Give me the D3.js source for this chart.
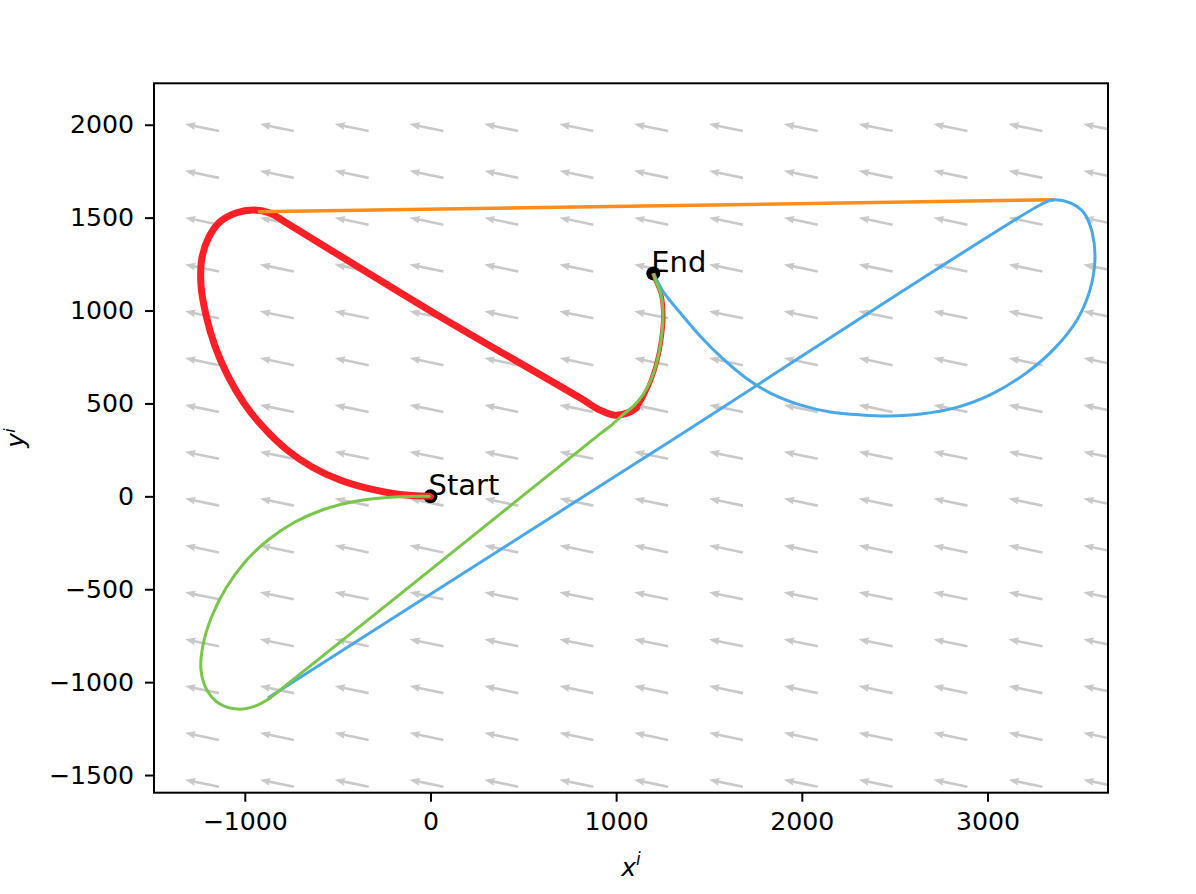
<!DOCTYPE html>
<html lang="en">
  <head>
    <meta charset="UTF-8" />
    <title>Paths in wind field</title>
    <script src="https://d3js.org/d3.v7.min.js"></script>
    <style>
      body { margin: 0; background: #fff; }
      text { font-family: "DejaVu Sans", sans-serif; }
    </style>
  </head>
  <body>
    <svg width="1196" height="894"></svg>

    <script>
      // ---- data ----
      const xTicks = [-1000, 0, 1000, 2000, 3000];
      const yTicks = [-1500, -1000, -500, 0, 500, 1000, 1500, 2000];

      // quiver grid (arrow tails) and the constant wind vector
      const quiverX = [-1139, -736, -333, 70, 473, 877, 1280, 1683, 2086, 2489, 2892, 3296, 3699];
      const quiverY = [1966, 1714, 1462, 1210, 958, 706, 454, 202, -50, -302, -554, -807, -1059, -1311, -1563];
      const windU = -183;
      const windV = 38;

      const redPath = [
        [0, 0], [-164, 10], [-326, 40], [-487, 88], [-638, 158], [-773, 250],
        [-897, 368], [-1005, 502], [-1091, 648], [-1161, 809], [-1209, 976],
        [-1236, 1138], [-1231, 1283], [-1193, 1396], [-1134, 1477], [-1048, 1525],
        [-951, 1541], [-865, 1525], [-784, 1477], [0, 998], [805, 530],
        [913, 464], [994, 437], [1074, 454], [1110, 478]
      ];
      const redEnd = [
        [994, 437], [1074, 454], [1120, 490], [1160, 560], [1190, 630], [1220, 725],
        [1243, 843], [1254, 967], [1243, 1085], [1216, 1155], [1200, 1200]
      ];
      const greenPath = [
        [0, 0], [-191, -3], [-380, -22], [-568, -68], [-730, -138], [-875, -235],
        [-999, -353], [-1101, -493], [-1177, -644], [-1225, -800], [-1236, -935],
        [-1204, -1042], [-1134, -1118], [-1037, -1145], [-945, -1129], [-864, -1085],
        [-784, -1021], [0, -396], [913, 336], [978, 386], [1037, 440], [1096, 488],
        [1145, 547], [1188, 628], [1220, 725], [1242, 843], [1252, 967],
        [1242, 1085], [1215, 1155], [1200, 1200]
      ];
      const bluePath = [
        [1200, 1200], [1226, 1150], [1258, 1095], [1344, 989], [1452, 863],
        [1570, 745], [1699, 637], [1839, 551], [1990, 492], [2152, 454],
        [2324, 438], [2475, 433], [2642, 443], [2825, 476], [3014, 546],
        [3202, 659], [3364, 799], [3482, 949], [3552, 1111], [3579, 1283],
        [3563, 1423], [3520, 1525], [3445, 1579], [3348, 1595], [3283, 1568],
        [1298, 301], [644, -116], [-875, -1085]
      ];
      const orangePath = [[-930, 1532], [3360, 1596]];

      const markers = [
        { x: 0, y: 0, label: "Start" },
        { x: 1200, y: 1200, label: "End" }
      ];

      // ---- layout ----
      const svg = d3.select("svg");
      const plot = { left: 154, right: 1108, top: 83.3, bottom: 792.7 };

      const x = d3.scaleLinear().domain([-1489, 3649]).range([plot.left, plot.right]);
      const y = d3.scaleLinear().domain([-1595, 2223]).range([plot.bottom, plot.top]);

      svg.append("rect").attr("width", 1196).attr("height", 894).attr("fill", "#fff");

      svg.append("clipPath").attr("id", "clip")
        .append("rect")
        .attr("x", plot.left).attr("y", plot.top)
        .attr("width", plot.right - plot.left)
        .attr("height", plot.bottom - plot.top);

      const g = svg.append("g").attr("clip-path", "url(#clip)");

      // quiver arrows
      const grid = [];
      quiverX.forEach(qx => quiverY.forEach(qy => grid.push([qx, qy])));

      function arrowPoints(d) {
        const x0 = x(d[0]), y0 = y(d[1]);
        const x1 = x(d[0] + windU), y1 = y(d[1] + windV);
        const L = Math.hypot(x1 - x0, y1 - y0);
        const ux = (x1 - x0) / L, uy = (y1 - y0) / L;
        const nx = -uy, ny = ux;
        const w = 1.3, hw = 3.9, hl = 10.5, hal = 9.5;
        const local = [[0, w], [L - hal, w], [L - hl, hw], [L, 0], [L - hl, -hw], [L - hal, -w], [0, -w]];
        return local.map(p => [x0 + ux * p[0] + nx * p[1], y0 + uy * p[0] + ny * p[1]].join(",")).join(" ");
      }

      g.selectAll("polygon.arrow")
        .data(grid)
        .join("polygon")
        .attr("class", "arrow")
        .attr("points", arrowPoints)
        .attr("fill", "#c9c9c9");

      // start / end markers (under the paths)
      g.selectAll("circle.marker")
        .data(markers)
        .join("circle")
        .attr("class", "marker")
        .attr("cx", d => x(d.x))
        .attr("cy", d => y(d.y))
        .attr("r", 7)
        .attr("fill", "#000");

      const line = d3.line()
        .x(d => x(d[0]))
        .y(d => y(d[1]))
        .curve(d3.curveCatmullRom.alpha(0.5));

      function drawPath(data, color, width, cap) {
        g.append("path")
          .datum(data)
          .attr("d", line)
          .attr("fill", "none")
          .attr("stroke", color)
          .attr("stroke-width", width)
          .attr("stroke-linejoin", "round")
          .attr("stroke-linecap", cap || "butt");
      }

      drawPath(redPath, "#fe1f27", 7, "round");
      drawPath(redEnd, "#fe1f27", 4.5);
      drawPath(orangePath, "#fe8d1c", 3.5);
      drawPath(bluePath, "#48a8ea", 3);
      drawPath(greenPath, "#78c64a", 3);

      // labels
      svg.selectAll("text.mlabel")
        .data(markers)
        .join("text")
        .attr("class", "mlabel")
        .attr("x", d => x(d.x) - 2)
        .attr("y", d => y(d.y) - 1)
        .attr("font-size", 29)
        .attr("fill", "#000")
        .text(d => d.label);

      // frame
      svg.append("rect")
        .attr("x", plot.left).attr("y", plot.top)
        .attr("width", plot.right - plot.left)
        .attr("height", plot.bottom - plot.top)
        .attr("fill", "none")
        .attr("stroke", "#000")
        .attr("stroke-width", 2);

      // axes
      const fmt = d3.format("d");
      const xAxis = svg.append("g")
        .attr("transform", `translate(0,${plot.bottom})`)
        .call(d3.axisBottom(x).tickValues(xTicks).tickFormat(fmt).tickSize(9).tickPadding(10).tickSizeOuter(0));
      const yAxis = svg.append("g")
        .attr("transform", `translate(${plot.left},0)`)
        .call(d3.axisLeft(y).tickValues(yTicks).tickFormat(fmt).tickSize(9).tickPadding(11).tickSizeOuter(0));

      [xAxis, yAxis].forEach(a => {
        a.select(".domain").remove();
        a.selectAll(".tick line").attr("stroke", "#000").attr("stroke-width", 2);
        a.selectAll(".tick text")
          .attr("font-family", "DejaVu Sans, sans-serif")
          .attr("font-size", 25.2)
          .attr("fill", "#000");
      });

      // axis labels
      const xl = svg.append("text")
        .attr("x", (plot.left + plot.right) / 2)
        .attr("y", 876)
        .attr("text-anchor", "middle")
        .attr("font-size", 25);
      xl.append("tspan").attr("font-style", "italic").text("x");
      xl.append("tspan").attr("font-style", "italic").attr("font-size", 17).attr("dy", -11).text("i");

      const yl = svg.append("text")
        .attr("transform", `translate(24,${(plot.top + plot.bottom) / 2}) rotate(-90)`)
        .attr("text-anchor", "middle")
        .attr("font-size", 25);
      yl.append("tspan").attr("font-style", "italic").text("y");
      yl.append("tspan").attr("font-style", "italic").attr("font-size", 16).attr("dy", -9).text("i");
    </script>
  </body>
</html>
